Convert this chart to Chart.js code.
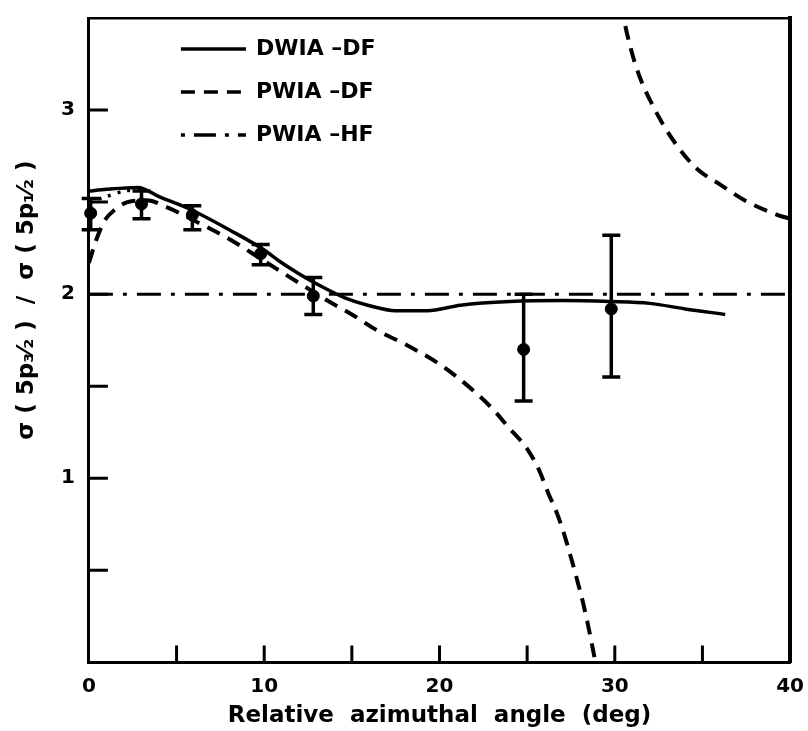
<!DOCTYPE html>
<html>
<head>
<meta charset="UTF-8">
<title>Spin-orbit ratio</title>
<script src="https://cdn.jsdelivr.net/npm/chart.js"></script>
<style>
    html, body { margin: 0; padding: 0; background: #fff; }
    #wrap { width: 808px; height: 731px; }
</style>
</head>
<body>
<div id="wrap"><canvas id="chart"></canvas></div>
<script>
// curves
const dwiaX = [0, 1, 2.8, 4, 5.8, 8, 10, 10.85, 12, 13.3, 14.6, 15.9, 17.5, 19.3, 21.2, 24, 27, 29.7, 32, 34, 36.3];
const dwiaY = [2.56, 2.57, 2.58, 2.53, 2.46, 2.35, 2.24, 2.18, 2.11, 2.04, 1.98, 1.94, 1.91, 1.91, 1.94, 1.96, 1.965, 1.96, 1.95, 1.92, 1.89];

const pwiaX = [0, 0.4, 0.9, 1.5, 2.2, 3.3, 4.5, 6, 8, 10, 12, 13.7, 15, 16.5, 18, 20, 21, 22, 23, 24, 25, 25.7, 26.2, 26.7, 27.1, 27.5, 27.9, 28.2, 28.5, 28.9];
const pwiaY = [2.17, 2.29, 2.40, 2.46, 2.50, 2.51, 2.47, 2.40, 2.30, 2.18, 2.06, 1.96, 1.89, 1.80, 1.73, 1.62, 1.55, 1.47, 1.38, 1.27, 1.16, 1.04, 0.92, 0.81, 0.70, 0.57, 0.43, 0.32, 0.19, 0.0];

// second branch of the PWIA-DF curve, coming down from the top
const pwiaHiX = [30.35, 30.5, 31.2, 32.3, 33.6, 34.7, 36.1, 37.4, 39.3, 40];
const pwiaHiY = [3.58, 3.50, 3.24, 3.00, 2.80, 2.68, 2.59, 2.51, 2.43, 2.41];

const hfX = [0, 40];
const hfY = [2.0, 2.0];

// short dotted curve near zero angle
const dotX = [0, 1, 2, 3];
const dotY = [2.50, 2.53, 2.56, 2.57];

// measured points with error bars
const expX = [0.1, 3, 5.9, 9.8, 12.8, 24.8, 29.8];
const expY = [2.44, 2.49, 2.43, 2.22, 1.99, 1.70, 1.92];
const expLow = [2.35, 2.41, 2.35, 2.16, 1.89, 1.42, 1.55];
const expHigh = [2.52, 2.56, 2.48, 2.27, 2.09, 2.00, 2.32];

const xMinorTicks = [5, 10, 15, 20, 25, 30, 35];
const yMinorTicks = [0.5, 1, 1.5, 2, 2.5, 3];
const legendNames = ['DWIA –DF', 'PWIA –DF', 'PWIA –HF'];
const yTitle = 'σ ( 5p₃⁄₂ )  /  σ ( 5p₁⁄₂ )';

const pts = (xs, ys) => xs.map((x, i) => ({x: x, y: ys[i]}));
const FONT = "'DejaVu Sans', sans-serif";

const errorBars = {
    id: 'errorBars',
    afterDatasetsDraw(chart) {
        const ctx = chart.ctx, xs = chart.scales.x, ys = chart.scales.y;
        ctx.save();
        ctx.strokeStyle = '#000';
        ctx.lineWidth = 3.5;
        for (let i = 0; i < expX.length; i++) {
            const px = xs.getPixelForValue(expX[i]);
            const top = ys.getPixelForValue(expHigh[i]);
            const bot = ys.getPixelForValue(expLow[i]);
            ctx.beginPath();
            ctx.moveTo(px, top); ctx.lineTo(px, bot);
            ctx.moveTo(px - 9, top); ctx.lineTo(px + 9, top);
            ctx.moveTo(px - 9, bot); ctx.lineTo(px + 9, bot);
            ctx.stroke();
        }
        ctx.restore();
    }
};

const innerTicks = {
    id: 'innerTicks',
    afterDraw(chart) {
        const ctx = chart.ctx, a = chart.chartArea;
        const xs = chart.scales.x, ys = chart.scales.y;
        ctx.save();
        ctx.strokeStyle = '#000';
        ctx.lineWidth = 3;
        ctx.beginPath();
        xMinorTicks.forEach(v => {
            const px = xs.getPixelForValue(v);
            ctx.moveTo(px, a.bottom); ctx.lineTo(px, a.bottom - 17);
        });
        yMinorTicks.forEach(v => {
            const py = ys.getPixelForValue(v);
            ctx.moveTo(a.left, py); ctx.lineTo(a.left + 19, py);
        });
        ctx.stroke();

        // legend inside the frame
        const styles = [[], [14, 9], [4, 9, 22, 9]];
        ctx.font = 'bold 22px ' + FONT;
        ctx.textBaseline = 'middle';
        ctx.fillStyle = '#000';
        legendNames.forEach((name, i) => {
            const y = a.top + 31 + i * 43;
            ctx.setLineDash(styles[i]);
            ctx.lineWidth = 3.5;
            ctx.beginPath();
            ctx.moveTo(a.left + 92, y); ctx.lineTo(a.left + 157, y);
            ctx.stroke();
            ctx.setLineDash([]);
            ctx.fillText(name, a.left + 167, y);
        });

        // y axis title, placed as in the figure
        ctx.translate(27, 300);
        ctx.rotate(-Math.PI / 2);
        ctx.textAlign = 'center';
        ctx.font = 'bold 23px ' + FONT;
        ctx.fillText(yTitle, 0, 0);
        ctx.restore();
    }
};

new Chart(document.getElementById('chart'), {
    type: 'scatter',
    data: {
        datasets: [
            {
                label: 'DWIA-DF',
                data: pts(dwiaX, dwiaY),
                showLine: true,
                borderColor: '#000',
                borderWidth: 3.5,
                pointRadius: 0,
                cubicInterpolationMode: 'monotone'
            },
            {
                label: 'PWIA-DF',
                data: pts(pwiaX, pwiaY),
                showLine: true,
                borderColor: '#000',
                borderWidth: 4,
                borderDash: [14, 9],
                pointRadius: 0,
                cubicInterpolationMode: 'monotone'
            },
            {
                label: 'PWIA-DF (upper)',
                data: pts(pwiaHiX, pwiaHiY),
                showLine: true,
                borderColor: '#000',
                borderWidth: 4,
                borderDash: [14, 9],
                pointRadius: 0,
                cubicInterpolationMode: 'monotone'
            },
            {
                label: 'PWIA-HF',
                data: pts(hfX, hfY),
                showLine: true,
                borderColor: '#000',
                borderWidth: 3,
                borderDash: [24, 10, 4, 10],
                pointRadius: 0
            },
            {
                label: 'dotted',
                data: pts(dotX, dotY),
                showLine: true,
                borderColor: '#000',
                borderWidth: 3.5,
                borderDash: [3, 7],
                pointRadius: 0,
                tension: 0.3
            },
            {
                label: 'experiment',
                data: pts(expX, expY),
                showLine: false,
                pointRadius: 6,
                pointBackgroundColor: '#000',
                pointBorderColor: '#000',
                clip: false
            }
        ]
    },
    options: {
        responsive: true,
        maintainAspectRatio: false,
        animation: false,
        layout: { padding: { top: 1, right: 0, left: 55, bottom: 1 } },
        plugins: {
            legend: { display: false },
            tooltip: { enabled: false }
        },
        scales: {
            x: {
                type: 'linear',
                position: 'bottom',
                min: 0,
                max: 40,
                grid: { display: false },
                border: { display: true, color: '#000', width: 3 },
                ticks: {
                    stepSize: 5,
                    autoSkip: false,
                    maxRotation: 0,
                    color: '#000',
                    padding: 4,
                    font: { family: FONT, size: 20, weight: 'bold' },
                    callback: v => (v % 10 === 0 ? String(v) : '')
                },
                title: {
                    display: true,
                    text: 'Relative  azimuthal  angle  (deg)',
                    color: '#000',
                    padding: { top: 0, bottom: 0 },
                    font: { family: FONT, size: 23, weight: 'bold' }
                }
            },
            x2: {
                type: 'linear',
                position: 'top',
                min: 0,
                max: 40,
                grid: { display: false },
                ticks: { display: false },
                border: { display: true, color: '#000', width: 2.5 }
            },
            y: {
                type: 'linear',
                min: 0,
                max: 3.5,
                grid: { display: false },
                border: { display: true, color: '#000', width: 3 },
                ticks: {
                    stepSize: 0.5,
                    autoSkip: false,
                    color: '#000',
                    padding: 6,
                    font: { family: FONT, size: 20, weight: 'bold' },
                    callback: v => ([1, 2, 3].includes(v) ? String(v) : '')
                }
            },
            y2: {
                type: 'linear',
                position: 'right',
                min: 0,
                max: 3.5,
                grid: { display: false },
                ticks: { display: false },
                border: { display: true, color: '#000', width: 4 }
            }
        }
    },
    plugins: [errorBars, innerTicks]
});
</script>
</body>
</html>
